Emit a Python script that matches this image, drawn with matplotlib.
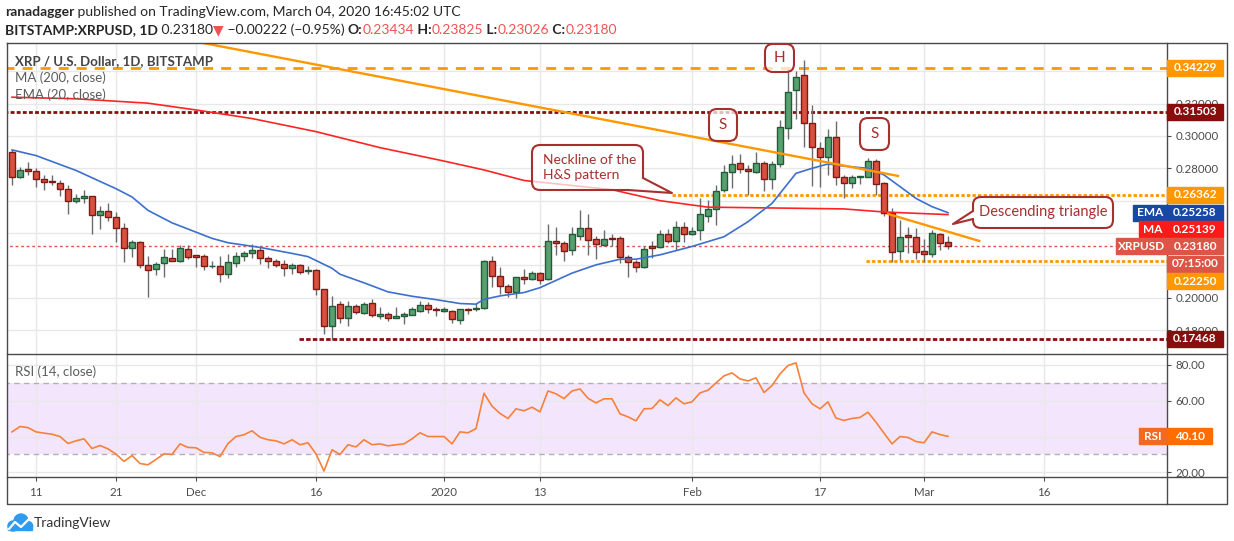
import matplotlib
matplotlib.use('Agg')
import matplotlib.pyplot as plt
import numpy as np
from matplotlib.patches import Rectangle, FancyBboxPatch, Polygon, Circle

FONT = ['Lato', 'DejaVu Sans']
plt.rcParams['font.family'] = FONT

# daily candles XRP/USD, 8 Nov 2019 .. 4 Mar 2020
open_ = [0.2904, 0.2746, 0.2797, 0.2785, 0.2736, 0.2723, 0.2711, 0.2674, 0.2600, 0.2619,
         0.2631, 0.2510, 0.2539, 0.2496, 0.2428, 0.2305, 0.2342, 0.2203, 0.2176, 0.2213,
         0.2244, 0.2229, 0.2299, 0.2262, 0.2256, 0.2194, 0.2194, 0.2145, 0.2213, 0.2256,
         0.2274, 0.2295, 0.2244, 0.2225, 0.2207, 0.2182, 0.2203, 0.2164, 0.2170, 0.2053,
         0.1827, 0.1964, 0.1877, 0.1951, 0.1908, 0.1970, 0.1889, 0.1902, 0.1877, 0.1889,
         0.1896, 0.1920, 0.1957, 0.1929, 0.1920, 0.1920, 0.1865, 0.1933, 0.1927, 0.1939,
         0.2230, 0.2137, 0.2075, 0.2038, 0.2127, 0.2114, 0.2152, 0.2114, 0.2352, 0.2338,
         0.2294, 0.2381, 0.2431, 0.2362, 0.2325, 0.2370, 0.2370, 0.2251, 0.2222, 0.2189,
         0.2317, 0.2313, 0.2393, 0.2352, 0.2437, 0.2393, 0.2420, 0.2507, 0.2546, 0.2666,
         0.2779, 0.2831, 0.2794, 0.2777, 0.2831, 0.2732, 0.2827, 0.3047, 0.3285, 0.3377,
         0.3078, 0.2924, 0.2872, 0.2992, 0.2744, 0.2711, 0.2746, 0.2748, 0.2843, 0.2707,
         0.2522, 0.2291, 0.2386, 0.2373, 0.2289, 0.2268, 0.2394, 0.23434]
high_ = [0.2914, 0.2811, 0.2842, 0.2805, 0.2760, 0.2756, 0.2725, 0.2695, 0.2643, 0.2664,
         0.2631, 0.2565, 0.2584, 0.2528, 0.2459, 0.2356, 0.2350, 0.2258, 0.2223, 0.2301,
         0.2301, 0.2326, 0.2326, 0.2262, 0.2270, 0.2227, 0.2258, 0.2270, 0.2280, 0.2291,
         0.2332, 0.2315, 0.2258, 0.2239, 0.2233, 0.2217, 0.2209, 0.2196, 0.2180, 0.2053,
         0.2009, 0.1978, 0.1978, 0.1964, 0.1972, 0.1991, 0.1941, 0.1914, 0.1941, 0.1912,
         0.1945, 0.1982, 0.1974, 0.1943, 0.1943, 0.1926, 0.1933, 0.1937, 0.1970, 0.2236,
         0.2257, 0.2189, 0.2086, 0.2131, 0.2180, 0.2166, 0.2162, 0.2455, 0.2437, 0.2352,
         0.2437, 0.2544, 0.2519, 0.2379, 0.2420, 0.2393, 0.2379, 0.2265, 0.2234, 0.2321,
         0.2348, 0.2420, 0.2424, 0.2474, 0.2466, 0.2437, 0.2617, 0.2604, 0.2699, 0.2821,
         0.2882, 0.2889, 0.2821, 0.2901, 0.2847, 0.2847, 0.3099, 0.3412, 0.3402, 0.3470,
         0.3192, 0.2965, 0.3041, 0.3093, 0.2759, 0.2759, 0.2753, 0.2862, 0.2856, 0.2718,
         0.2553, 0.2480, 0.2439, 0.2428, 0.2361, 0.2419, 0.2402, 0.23825]
low_ = [0.2695, 0.2740, 0.2760, 0.2684, 0.2664, 0.2695, 0.2629, 0.2518, 0.2586, 0.2586,
        0.2395, 0.2426, 0.2475, 0.2346, 0.2223, 0.2254, 0.2182, 0.2002, 0.2139, 0.2125,
        0.2227, 0.2223, 0.2237, 0.2188, 0.2174, 0.2182, 0.2094, 0.2119, 0.2192, 0.2229,
        0.2244, 0.2211, 0.2186, 0.2190, 0.2137, 0.2147, 0.2145, 0.2145, 0.2018, 0.1778,
        0.1740, 0.1844, 0.1825, 0.1900, 0.1902, 0.1881, 0.1867, 0.1856, 0.1873, 0.1838,
        0.1891, 0.1912, 0.1906, 0.1887, 0.1912, 0.1844, 0.1836, 0.1898, 0.1918, 0.1931,
        0.2067, 0.2021, 0.2007, 0.2000, 0.2084, 0.2110, 0.2086, 0.2110, 0.2261, 0.2228,
        0.2261, 0.2358, 0.2261, 0.2238, 0.2317, 0.2317, 0.2214, 0.2131, 0.2160, 0.2185,
        0.2245, 0.2305, 0.2338, 0.2296, 0.2344, 0.2389, 0.2358, 0.2466, 0.2447, 0.2656,
        0.2676, 0.2773, 0.2635, 0.2773, 0.2662, 0.2670, 0.2810, 0.2979, 0.3103, 0.2934,
        0.2691, 0.2687, 0.2759, 0.2695, 0.2614, 0.2680, 0.2703, 0.2744, 0.2635, 0.2507,
        0.2223, 0.2233, 0.2278, 0.2237, 0.2223, 0.2254, 0.2295, 0.23026]
close_ = [0.2746, 0.2791, 0.2785, 0.2736, 0.2717, 0.2715, 0.2674, 0.2600, 0.2619, 0.2631,
          0.2514, 0.2535, 0.2500, 0.2428, 0.2305, 0.2342, 0.2205, 0.2170, 0.2207, 0.2250,
          0.2229, 0.2305, 0.2254, 0.2254, 0.2194, 0.2198, 0.2145, 0.2219, 0.2256, 0.2276,
          0.2295, 0.2244, 0.2225, 0.2205, 0.2182, 0.2203, 0.2157, 0.2170, 0.2053, 0.1823,
          0.1951, 0.1877, 0.1951, 0.1912, 0.1964, 0.1896, 0.1898, 0.1877, 0.1885, 0.1900,
          0.1927, 0.1957, 0.1927, 0.1925, 0.1929, 0.1871, 0.1927, 0.1925, 0.1939, 0.2230,
          0.2137, 0.2075, 0.2038, 0.2125, 0.2113, 0.2152, 0.2110, 0.2352, 0.2338, 0.2290,
          0.2393, 0.2431, 0.2358, 0.2331, 0.2362, 0.2366, 0.2251, 0.2222, 0.2189, 0.2300,
          0.2305, 0.2393, 0.2348, 0.2437, 0.2393, 0.2414, 0.2519, 0.2548, 0.2662, 0.2779,
          0.2827, 0.2794, 0.2781, 0.2831, 0.2732, 0.2825, 0.3054, 0.3270, 0.3363, 0.3078,
          0.2930, 0.2868, 0.2992, 0.2744, 0.2711, 0.2744, 0.2753, 0.2843, 0.2703, 0.2522,
          0.2285, 0.2377, 0.2373, 0.2285, 0.2268, 0.2398, 0.2336, 0.23180]

# EMA 20 and MA 200 (day index, value)
ema_day = [0, 3, 8, 13, 15, 17, 20, 25, 27, 31, 35, 37, 40, 41, 44, 47, 50, 53, 56, 58,
           59, 61, 64, 66, 70, 73, 76, 78, 81, 85, 86, 89, 92, 95, 97, 98, 100, 102, 104,
           107, 109, 111, 113, 115, 117]
ema_val = [0.2914, 0.2879, 0.2787, 0.2674, 0.2623, 0.2540, 0.2463, 0.2367, 0.2340, 0.2311,
           0.2274, 0.2254, 0.2182, 0.2145, 0.2092, 0.2036, 0.2009, 0.1988, 0.1964, 0.1960,
           0.1990, 0.2011, 0.2032, 0.2062, 0.2152, 0.2203, 0.2238, 0.2238, 0.2265, 0.2317,
           0.2332, 0.2377, 0.2470, 0.2583, 0.2707, 0.2769, 0.2800, 0.2827, 0.2814, 0.2800,
           0.2759, 0.2687, 0.2614, 0.2563, 0.25258]
ma_day = [0, 8, 17, 23, 30, 38, 46, 54, 59, 64, 75, 81, 87, 98, 104, 109, 117]
ma_val = [0.3240, 0.3230, 0.3203, 0.3161, 0.3108, 0.3027, 0.2928, 0.2845, 0.2790, 0.2725,
          0.2668, 0.2600, 0.2560, 0.2553, 0.2549, 0.2530, 0.25139]

rsi = [42.6, 45.6, 45.0, 42.6, 41.9, 41.3, 40.0, 36.1, 37.6, 38.7,
       33.3, 35.0, 33.1, 30.2, 26.1, 29.4, 24.9, 24.2, 27.2, 30.3,
       30.0, 35.9, 33.9, 33.7, 31.1, 30.9, 28.8, 36.1, 40.0, 41.0,
       43.2, 39.6, 38.2, 37.6, 35.9, 38.2, 35.4, 36.5, 30.3, 20.7,
       32.6, 30.0, 35.4, 34.2, 38.2, 35.4, 35.9, 34.8, 35.4, 35.9,
       38.7, 42.1, 40.0, 40.0, 40.0, 35.9, 42.6, 42.1, 44.4, 64.2,
       57.0, 52.9, 50.1, 55.5, 54.4, 56.4, 53.8, 65.5, 63.9, 61.2,
       65.5, 66.6, 61.4, 58.8, 61.1, 61.1, 52.7, 51.0, 48.8, 55.5,
       55.7, 60.5, 57.3, 61.6, 58.3, 59.4, 64.4, 65.9, 70.0, 73.9,
       75.6, 72.2, 71.1, 72.8, 64.6, 68.5, 75.0, 79.7, 81.2, 64.4,
       58.3, 55.5, 59.4, 50.3, 49.0, 50.1, 50.7, 53.6, 48.0, 41.9,
       35.9, 40.0, 39.5, 37.2, 36.5, 42.6, 41.1, 40.1]

tick_day = [3, 13, 23, 38, 54, 66, 85, 101, 114, 129]
tick_txt = ['11', '21', 'Dec', '16', '2020', '13', 'Feb', '17', 'Mar', '16']
grid_px = [0.18, 0.20, 0.22, 0.24, 0.26, 0.28, 0.30, 0.32, 0.34]
shown_px = [0.18, 0.20, 0.28, 0.30, 0.32]

lvl_top, lvl_res, lvl_neck, lvl_sup, lvl_low = 0.34229, 0.31503, 0.26362, 0.22250, 0.17468
trend_main = ([23.9, 110.75], [0.3575, 0.2753])
trend_tri = ([109.5, 120.9], [0.2518, 0.2351])

W, H = 1234, 541
RED_T = '#a82f2f'
ORANGE = '#ff9800'
DKRED = '#880e0e'
PRICE_C = '#e0574a'

fig = plt.figure(figsize=(12.34, 5.41), dpi=100)


def pane(x0, y0, x1, y1):
    return fig.add_axes([x0 / W, 1 - y1 / H, (x1 - x0) / W, (y1 - y0) / H])


ax = pane(7, 43, 1167, 354)
axr = pane(7, 354, 1167, 477)
over = fig.add_axes([0, 0, 1, 1], zorder=10)
over.set_xlim(0, W)
over.set_ylim(H, 0)
over.axis('off')

for a in (ax, axr):
    for s in a.spines.values():
        s.set_visible(False)
    a.set_xlim(-0.625, 144.375)
    a.set_xticks(tick_day)
    a.grid(True, color='#e8e8e8', lw=1)
    a.set_axisbelow(True)
    a.yaxis.tick_right()
    a.tick_params(axis='y', length=3, pad=3, labelsize=8.3, colors='#4c4c4c')

ax.set_ylim(0.16518, 0.35751)
ax.set_yticks(grid_px)
ax.set_yticklabels(['%.5f' % p if p in shown_px else '' for p in grid_px])
ax.tick_params(axis='x', length=0, labelbottom=False)

# candles
x = np.arange(len(close_))
o, h, l, c = map(np.array, (open_, high_, low_, close_))
up = c >= o
ax.vlines(x, l, h, color='#6b6b6b', lw=1, zorder=3)
ax.bar(x[up], (c - o)[up], bottom=o[up], width=0.72, color='#58a06f',
       edgecolor='#1f5c37', lw=1, zorder=4)
ax.bar(x[~up], (c - o)[~up], bottom=o[~up], width=0.72, color='#d9503f',
       edgecolor='#7b1b16', lw=1, zorder=4)

ax.plot(ma_day, ma_val, color='#ff2424', lw=1.2, zorder=5)
ax.plot(ema_day, ema_val, color='#3d6fcc', lw=1.2, zorder=5)

xr = ax.get_xlim()[1]
ax.hlines(lvl_top, -1, xr, color=ORANGE, lw=2, linestyles=[(0, (3.6, 2.9))], zorder=2)
ax.hlines(lvl_res, -1, xr, color=DKRED, lw=2, linestyles=[(0, (1.4, 0.8))], zorder=2)
ax.hlines(lvl_neck, 82.5, xr, color=ORANGE, lw=2, linestyles=[(0, (1.2, 0.8))], zorder=2)
ax.hlines(lvl_sup, 106.75, xr, color=ORANGE, lw=2, linestyles=[(0, (1.2, 0.8))], zorder=2)
ax.hlines(lvl_low, 35.9, xr, color=DKRED, lw=2, linestyles=[(0, (1.6, 0.8))], zorder=2)
ax.hlines(close_[-1], -1, xr, color=PRICE_C, lw=1, linestyles=[(0, (2, 2))], zorder=2)
ax.plot(*trend_main, color=ORANGE, lw=1.7, zorder=6)
ax.plot(*trend_tri, color=ORANGE, lw=1.7, zorder=6)

# RSI pane
axr.set_ylim(17.37, 86.15)
axr.set_yticks([20, 40, 60, 80])
axr.set_yticklabels(['20.00', '40.00', '60.00', '80.00'])
axr.fill_between([-1, 150], 30, 70, color='#f3e6fc', lw=0, zorder=0.5)
axr.hlines([30, 70], -1, 150, color='#b4adbb', lw=1, linestyles=[(0, (4, 3))], zorder=1)
axr.plot(x, rsi, color='#f7813b', lw=1.2, zorder=3)
axr.set_xticklabels(tick_txt)
axr.tick_params(axis='x', length=3, pad=4, labelsize=8.3, colors='#4c4c4c')

# frame
fr = dict(color='#4a4a4a', lw=1)
over.plot([7, 1227, 1227, 7, 7], [43, 43, 504, 504, 43], **fr)
over.plot([7, 1227], [354, 354], **fr)
over.plot([7, 1227], [477, 477], **fr)
over.plot([1167, 1167], [43, 504], **fr)


def to_px(a, v):
    return over.transData.inverted().transform(a.transData.transform((0, v)))[1]


def tag(yc, txt, col, x0=1167, w=56):
    over.add_patch(Rectangle((x0, yc - 8), w, 16, color=col, zorder=11))
    over.text(x0 + w / 2, yc, txt, color='white', fontsize=8.5, fontweight='bold',
              ha='center', va='center', zorder=12)


tag(to_px(ax, lvl_top), '%.5f' % lvl_top, ORANGE)
tag(to_px(ax, lvl_res), '%.5f' % lvl_res, DKRED)
tag(to_px(ax, lvl_neck), '%.5f' % lvl_neck, ORANGE)
y_ema = to_px(ax, ema_val[-1])
tag(y_ema, '%.5f' % ema_val[-1], '#1848a6')
tag(y_ema, 'EMA', '#1848a6', x0=1133, w=34)
y_ma = y_ema + 16.6
tag(y_ma, '%.5f' % ma_val[-1], '#ff1a1a')
tag(y_ma, 'MA', '#ff1a1a', x0=1139, w=28)
y_px = to_px(ax, close_[-1])
tag(y_px, '%.5f' % close_[-1], '#dd5547')
tag(y_px, 'XRPUSD', '#dd5547', x0=1116, w=51)
tag(y_px + 17.5, '07:15:00', '#dd5547')
tag(y_px + 35, '%.5f' % lvl_sup, ORANGE)
tag(to_px(ax, lvl_low), '%.5f' % lvl_low, DKRED)
y_rsi = to_px(axr, rsi[-1])
tag(y_rsi, '%.2f' % rsi[-1], '#ff6d00', w=45)
tag(y_rsi, 'RSI', '#f26a22', x0=1139, w=28)

# header
rend = fig.canvas.get_renderer()


def seq(x0, y0, parts, size):
    for s, col, wt in parts:
        t = over.text(x0, y0, s, color=col, fontweight=wt, fontsize=size,
                      ha='left', va='center')
        x0 += t.get_window_extent(renderer=rend).width


DK = '#262626'
NEG = '#ef5350'
seq(5, 12, [('ranadagger', DK, 'bold'),
            (' published on TradingView.com, March 04, 2020 16:45:02 UTC', DK, 'normal')], 10)
seq(5, 30, [('BITSTAMP:XRPUSD, 1D', DK, 'bold'), (' 0.23180', DK, 'normal'),
            ('▼', NEG, 'normal'), (' \u22120.00222 (\u22120.95%) ', DK, 'normal'),
            ('O:', DK, 'bold'), ('0.23434', NEG, 'normal'), (' H:', DK, 'bold'),
            ('0.23825', NEG, 'normal'), (' L:', DK, 'bold'), ('0.23026', NEG, 'normal'),
            (' C:', DK, 'bold'), ('0.23180', NEG, 'normal')], 10)

over.text(15, 61, 'XRP / U.S. Dollar, 1D, BITSTAMP', color='#444444', fontsize=9.5,
          fontweight='bold', va='center')
over.text(15, 78, 'MA (200, close)', color='#5c5c5c', fontsize=9.5, va='center')
over.text(15, 95, 'EMA (20, close)', color='#5c5c5c', fontsize=9.5, va='center')
over.text(15, 372, 'RSI (14, close)', color='#5c5c5c', fontsize=9.5, va='center')


def callout(x0, y0, x1, y1, tail=None):
    over.add_patch(FancyBboxPatch((x0, y0), x1 - x0, y1 - y0,
                                  boxstyle='round,pad=0,rounding_size=8',
                                  fc=(1, 1, 1, 0.72), ec=RED_T, lw=1.5, zorder=11))
    if tail:
        b1, tip, b2, inner = tail
        over.add_patch(Polygon([inner[0], b1, tip, b2, inner[1]], closed=True,
                               fc='white', ec='none', zorder=12))
        over.plot([b1[0], tip[0], b2[0]], [b1[1], tip[1], b2[1]], color=RED_T,
                  lw=1.5, zorder=12)


callout(765, 44, 794, 72)
over.text(779.5, 58, 'H', color=RED_T, fontsize=11, ha='center', va='center', zorder=13)
callout(709, 109, 737, 141)
over.text(723, 125, 'S', color=RED_T, fontsize=11, ha='center', va='center', zorder=13)
callout(860, 118, 889, 150)
over.text(874.5, 134, 'S', color=RED_T, fontsize=11, ha='center', va='center', zorder=13)

callout(532, 145, 643, 190, ((643, 178), (672, 193), (628, 190),
                             ((640, 176), (626, 187))))
over.text(543, 160, 'Neckline of the', color=RED_T, fontsize=10, va='center', zorder=13)
over.text(543, 175, 'H&S pattern', color=RED_T, fontsize=10, va='center', zorder=13)

callout(973, 197, 1113, 228, ((973, 211), (953, 224), (973, 219),
                              ((976, 210), (976, 220))))
over.text(1043, 212, 'Descending triangle', color=RED_T, fontsize=10.5,
          ha='center', va='center', zorder=13)

# logo
for cx, cy, r in [(13, 526, 5), (21, 521, 7), (28, 526, 4.5)]:
    over.add_patch(Circle((cx, cy), r, color='#2f9bef', zorder=11))
over.add_patch(Rectangle((8, 524), 24, 6, color='#2f9bef', zorder=11))
over.plot([9, 15, 21, 29], [529, 522, 527, 519], color='white', lw=1.6, zorder=12)
over.text(34, 523, 'TradingView', color='#333333', fontsize=10, va='center')

fig.savefig('out.png', dpi=100)
